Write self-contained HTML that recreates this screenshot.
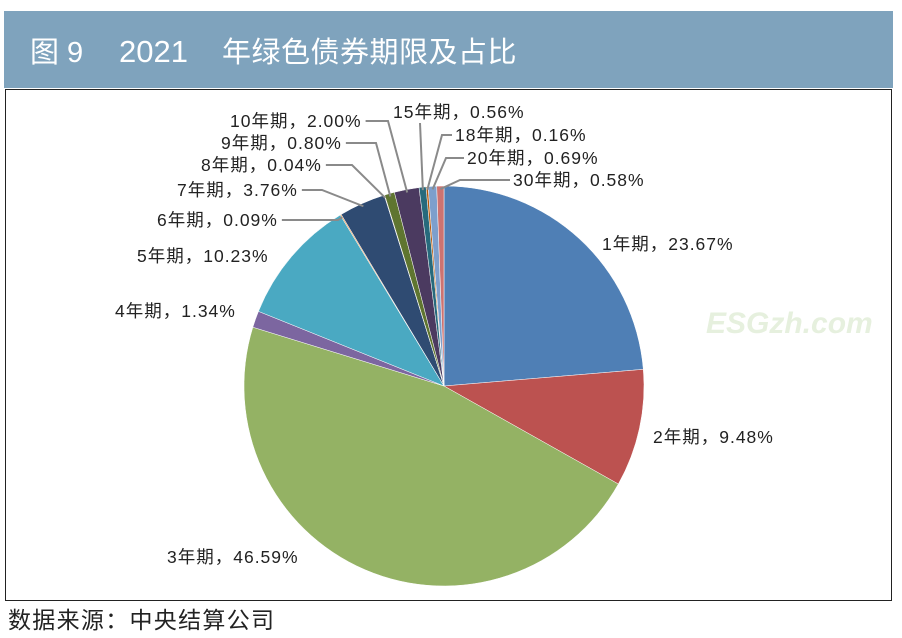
<!DOCTYPE html>
<html><head><meta charset="utf-8"><style>
html,body{margin:0;padding:0;background:#fff;width:902px;height:638px;overflow:hidden;}
svg text{font-family:"Liberation Sans","Noto Sans CJK SC",sans-serif;}
</style></head><body>
<svg id="chart" width="902" height="638" xmlns="http://www.w3.org/2000/svg">
<rect x="4" y="11" width="889" height="77" fill="#7fa3bd"/>
<g font-size="29" fill="#fff">
<text x="30" y="62">图 9</text>
<text x="119" y="62" font-size="31">2021</text>
<text x="222" y="62" letter-spacing="0.5">年绿色债券期限及占比</text>
</g>
<rect x="5.5" y="89.5" width="886" height="511" fill="#fff" stroke="#222" stroke-width="1"/>
<text x="706" y="333" font-size="30" font-weight="bold" font-style="italic" fill="#e6f0de" font-family="Liberation Serif,serif">ESGzh.com</text>
<g id="slices"></g>
<g id="leaders"></g>
<g id="labels"></g>
<text x="8" y="628" font-size="23" fill="#222" letter-spacing="1.3">数据来源：中央结算公司</text>
</svg>
<script>
const categories=["1年期","2年期","3年期","4年期","5年期","6年期","7年期","8年期","9年期","10年期","15年期","18年期","20年期","30年期"];
const values=[23.67,9.48,46.59,1.34,10.23,0.09,3.76,0.04,0.80,2.00,0.56,0.16,0.69,0.58];
const valueLabels=["23.67%","9.48%","46.59%","1.34%","10.23%","0.09%","3.76%","0.04%","0.80%","2.00%","0.56%","0.16%","0.69%","0.58%"];
const colors=["#4f7fb5","#bc5250","#94b264","#7c66a0","#4aa9c2","#e8944a","#2f4b72","#772c2a","#5f7530","#4b3a60","#276a7c","#b65708","#7d9fcc","#cd7371"];
// label layout: [x, y, elbow x or null, mode]
const labelPos=[[602,250,null],[653,443,null],[167,563,null],[115,317,null],[137,262,null],[157,226,338],[177,196,322],[201,171,352],[221,149,376],[230,127,388],[393,118,420,"below"],[455,141,442],[467,164,446],[513,186,460]];
const cx=444,cy=386,r=200;
const NS="http://www.w3.org/2000/svg";
const total=values.reduce((a,b)=>a+b,0);
function pt(a,rr){return [cx+rr*Math.sin(a),cy-rr*Math.cos(a)];}
const gS=document.getElementById('slices'),gL=document.getElementById('leaders'),gT=document.getElementById('labels');
let acc=0;
values.forEach((v,i)=>{
  const a0=acc/total*2*Math.PI; acc+=v; const a1=acc/total*2*Math.PI;
  const p0=pt(a0,r),p1=pt(a1,r);
  const large=(a1-a0)>Math.PI?1:0;
  const path=document.createElementNS(NS,'path');
  path.setAttribute('d',`M${cx},${cy} L${p0[0]},${p0[1]} A${r},${r} 0 ${large} 1 ${p1[0]},${p1[1]} Z`);
  path.setAttribute('fill',colors[i]);
  path.setAttribute('stroke','#fff');path.setAttribute('stroke-width','0.5');
  
  
  gS.appendChild(path);
  const lp=labelPos[i];
  const t=document.createElementNS(NS,'text');
  t.setAttribute('x',lp[0]);t.setAttribute('y',lp[1]);t.setAttribute('font-size','17.5');t.setAttribute('fill','#222');
  t.setAttribute('letter-spacing','1');
  t.textContent=categories[i]+"，"+valueLabels[i];
  
  
  gT.appendChild(t);
  if(lp[2]!==null){
    const am=(a0+a1)/2; const e=pt(am,r-3);
    const ly=lp[1]-6;
    let pts;
    if(lp[3]==="below"){
      pts=`${lp[2]},${lp[1]+5} ${e[0]},${e[1]}`;
    } else {
      let sx;
      if(e[0]<lp[0]) sx=lp[0]-3;
      else sx=lp[0]+t.getComputedTextLength()+4;
      pts=`${sx},${ly} ${lp[2]},${ly} ${e[0]},${e[1]}`;
    }
    const pl=document.createElementNS(NS,'polyline');
    pl.setAttribute('points',pts);
    pl.setAttribute('fill','none');pl.setAttribute('stroke','#8a8a8a');pl.setAttribute('stroke-width','2');
    
    
    gL.appendChild(pl);
  }
});
</script>
</body></html>
